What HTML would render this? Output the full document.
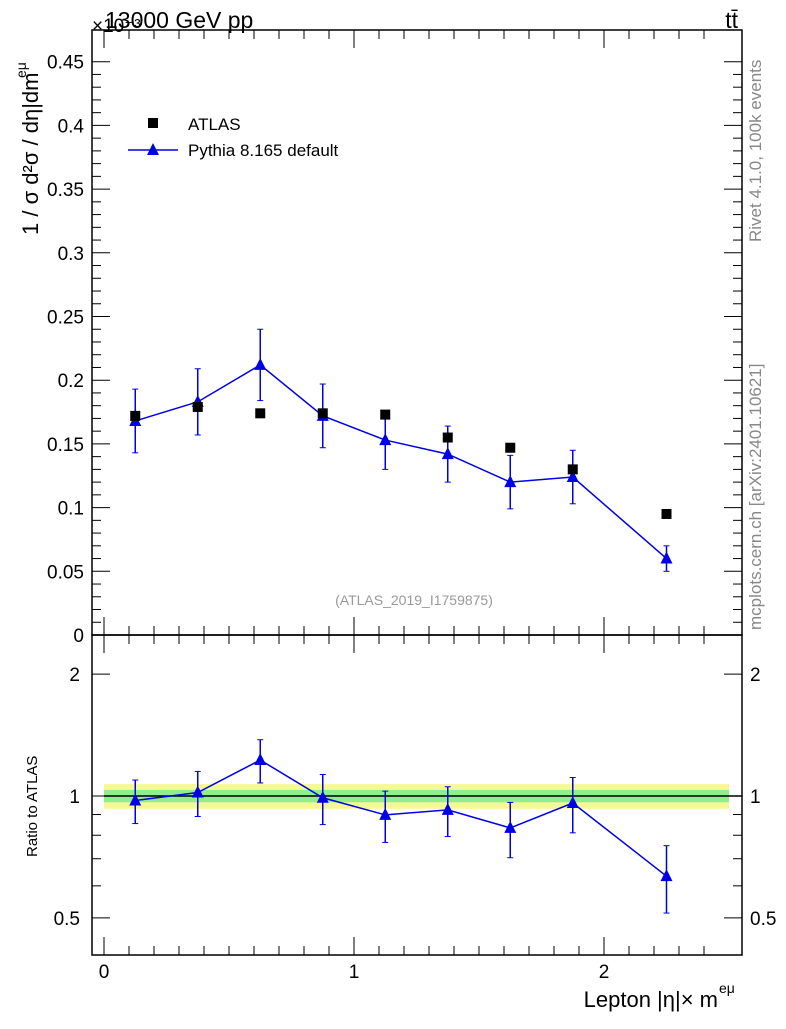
<!DOCTYPE html>
<html><head><meta charset="utf-8"><style>
body{margin:0;background:#fff;}
svg{font-family:"Liberation Sans",sans-serif;}
</style></head><body>
<svg id="c" width="786" height="1024" xmlns="http://www.w3.org/2000/svg"></svg>
<script>
const edges=[0,0.25,0.5,0.75,1,1.25,1.5,1.75,2,2.5];
const atlas=[0.172,0.179,0.174,0.174,0.173,0.155,0.147,0.130,0.095];
const pythia=[0.168,0.183,0.212,0.172,0.153,0.142,0.120,0.124,0.060];
const pythiaErr=[0.025,0.026,0.028,0.025,0.023,0.022,0.021,0.021,0.010];
const ratio=[0.975,1.02,1.227,0.99,0.898,0.924,0.834,0.961,0.634];
const ratioErr=[0.12,0.13,0.15,0.14,0.13,0.13,0.13,0.15,0.12];
const yellowBand=[0.07,0.07,0.07,0.07,0.07,0.07,0.07,0.07,0.07];
const greenBand=[0.035,0.035,0.035,0.035,0.035,0.035,0.035,0.035,0.035];
const mainTicks=[0,0.05,0.1,0.15,0.2,0.25,0.3,0.35,0.4,0.45];
const mainTickLabels=["0","0.05","0.1","0.15","0.2","0.25","0.3","0.35","0.4","0.45"];
const xTicks=[0,1,2];
const ratioTicks=[0.5,1,2];

const svg=document.getElementById('c');const NS="http://www.w3.org/2000/svg";
function el(t,a,p){const e=document.createElementNS(NS,t);for(const k in a)e.setAttribute(k,a[k]);(p||svg).appendChild(e);return e;}
const L=92,R=742,T1=30,B1=635,T2=635,B2=955;
const X=v=>104+v*250;
const Y1=v=>635-v*1274;
const Y2=v=>796-Math.log10(v)*405;

const f1=el('rect',{x:L,y:T1,width:R-L,height:B1-T1,fill:'none',stroke:'#000','stroke-width':1.5});

const f2=el('rect',{x:L,y:T2,width:R-L,height:B2-T2,fill:'none',stroke:'#000','stroke-width':1.5});


mainTicks.forEach((v,i)=>{const y=Y1(v);
 el('line',{x1:L,x2:L+18,y1:y,y2:y,stroke:'#000'});el('line',{x1:R,x2:R-18,y1:y,y2:y,stroke:'#000'});
 const t=el('text',{x:L-8,y:y+7,'text-anchor':'end','font-size':19});t.textContent=mainTickLabels[i];
 
 if(i<mainTicks.length-1)for(let k=1;k<5;k++){const yy=Y1(v+k*0.01);el('line',{x1:L,x2:L+9,y1:yy,y2:yy,stroke:'#000'});el('line',{x1:R,x2:R-9,y1:yy,y2:yy,stroke:'#000'});}
});
for(let v=0;v<=2.5;v+=0.1){const x=X(v);const major=Math.abs(v-Math.round(v))<1e-6;const h=major?18:9;
 el('line',{x1:x,x2:x,y1:T1,y2:T1+h,stroke:'#000'});el('line',{x1:x,x2:x,y1:B1,y2:B1-h,stroke:'#000'});
 el('line',{x1:x,x2:x,y1:T2,y2:T2+h,stroke:'#000'});el('line',{x1:x,x2:x,y1:B2,y2:B2-h,stroke:'#000'});}
xTicks.forEach(v=>{const t=el('text',{x:X(v),y:978,'text-anchor':'middle','font-size':19});t.textContent=v;
 });
[0.5,0.6,0.7,0.8,0.9,1,2].forEach(v=>{const y=Y2(v);const major=ratioTicks.includes(v);const h=major?18:9;
 el('line',{x1:L,x2:L+h,y1:y,y2:y,stroke:'#000'});el('line',{x1:R,x2:R-h,y1:y,y2:y,stroke:'#000'});});
ratioTicks.forEach(v=>{const y=Y2(v);
 const t=el('text',{x:L-12,y:y+7,'text-anchor':'end','font-size':19});t.textContent=v;
 
 const t2=el('text',{x:R+8,y:y+7,'font-size':19});t2.textContent=v;
 });

for(let i=0;i<atlas.length;i++){const x0=X(edges[i]),x1=X(edges[i+1]);
 const yb=el('rect',{x:x0,y:Y2(1+yellowBand[i]),width:x1-x0,height:Y2(1-yellowBand[i])-Y2(1+yellowBand[i]),fill:'#f5f57a','fill-opacity':0.8});
 
 const gb=el('rect',{x:x0,y:Y2(1+greenBand[i]),width:x1-x0,height:Y2(1-greenBand[i])-Y2(1+greenBand[i]),fill:'#8fef8f'});
 }
el('line',{x1:X(0),x2:R,y1:Y2(1),y2:Y2(1),stroke:'#000','stroke-width':1.5});

const mids=edges.slice(0,-1).map((e,i)=>(e+edges[i+1])/2);
function tri(x,y,name){const p=el('polygon',{points:`${x},${y-7} ${x-6},${y+5} ${x+6},${y+5}`,fill:'#0000e6'});
 }
el('polyline',{points:mids.map((m,i)=>X(m)+','+Y1(pythia[i])).join(' '),fill:'none',stroke:'#0000e6','stroke-width':1.5});
mids.forEach((m,i)=>{const x=X(m);const a=Y1(pythia[i]+pythiaErr[i]),b=Y1(pythia[i]-pythiaErr[i]);
 el('line',{x1:x,x2:x,y1:a,y2:b,stroke:'#0000e6','stroke-width':1.5});
 el('line',{x1:x-3,x2:x+3,y1:a,y2:a,stroke:'#0000e6'});el('line',{x1:x-3,x2:x+3,y1:b,y2:b,stroke:'#0000e6'});
 tri(x,Y1(pythia[i]),'pythia-point');});
atlas.forEach((v,i)=>{const r=el('rect',{x:X(mids[i])-5,y:Y1(v)-5,width:10,height:10,fill:'#000'});
 });
el('polyline',{points:mids.map((m,i)=>X(m)+','+Y2(ratio[i])).join(' '),fill:'none',stroke:'#0000e6','stroke-width':1.5});
mids.forEach((m,i)=>{const x=X(m);const a=Y2(ratio[i]+ratioErr[i]),b=Y2(ratio[i]-ratioErr[i]);
 el('line',{x1:x,x2:x,y1:a,y2:b,stroke:'#0000e6','stroke-width':1.5});
 el('line',{x1:x-3,x2:x+3,y1:a,y2:a,stroke:'#0000e6'});el('line',{x1:x-3,x2:x+3,y1:b,y2:b,stroke:'#0000e6'});
 tri(x,Y2(ratio[i]),'ratio-point');});

const lr=el('rect',{x:148,y:118,width:10,height:10,fill:'#000'});
let t=el('text',{x:188,y:130,'font-size':17});t.textContent='ATLAS';
el('line',{x1:128,x2:178,y1:150,y2:150,stroke:'#0000e6','stroke-width':1.5});tri(153,150,'legend-pythia-marker');
t=el('text',{x:188,y:156,'font-size':17});t.textContent='Pythia 8.165 default';

t=el('text',{x:105,y:28,'font-size':23});t.textContent='13000 GeV pp';
t=el('text',{x:92,y:32,'font-size':19});t.textContent='×10⁻³';
t=el('text',{x:738,y:28,'font-size':23,'text-anchor':'end'});t.textContent='tt̄';
t=el('text',{x:414,y:605,'font-size':14,fill:'#999','text-anchor':'middle'});t.textContent='(ATLAS_2019_I1759875)';
t=el('text',{x:718,y:1007,'font-size':22,'text-anchor':'end'});t.textContent='Lepton |η|× m';
el('text',{x:719,y:993,'font-size':14}).textContent='eμ';
t=el('text',{x:0,y:0,'font-size':22,transform:'translate(38,235) rotate(-90)'});t.textContent='1 / σ  d²σ / dη|dm';
el('text',{x:0,y:0,'font-size':14,transform:'translate(26,78) rotate(-90)'}).textContent='eμ';
t=el('text',{x:0,y:0,'font-size':15,transform:'translate(37,857) rotate(-90)'});t.textContent='Ratio to ATLAS';
t=el('text',{x:0,y:0,'font-size':17,fill:'#888',transform:'translate(761,242) rotate(-90)'});t.setAttribute('xml:space','preserve');t.textContent='Rivet 4.1.0,  100k events';
t=el('text',{x:0,y:0,'font-size':17,fill:'#888',transform:'translate(761,630) rotate(-90)'});t.textContent='mcplots.cern.ch [arXiv:2401.10621]';
</script>
</body></html>
